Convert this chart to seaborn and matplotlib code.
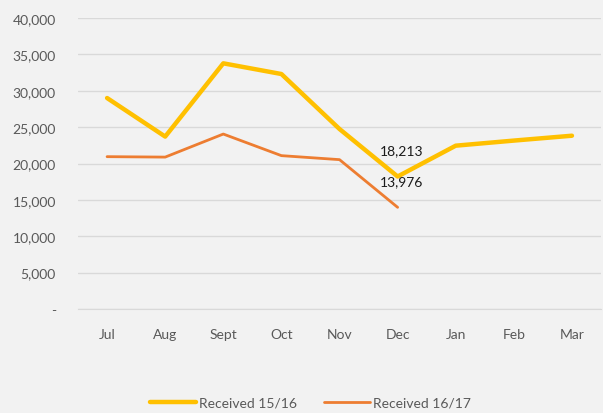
import matplotlib
matplotlib.use('Agg')
import matplotlib.pyplot as plt
import seaborn as sns
import pandas as pd
from matplotlib.ticker import FuncFormatter

months = ['Jul', 'Aug', 'Sept', 'Oct', 'Nov', 'Dec', 'Jan', 'Feb', 'Mar']
received_1516 = [29000, 23700, 33770, 32300, 24740, 18213, 22450, 23150, 23820]
months_1617 = ['Jul', 'Aug', 'Sept', 'Oct', 'Nov', 'Dec']
received_1617 = [20940, 20880, 24050, 21080, 20530, 13976]

df = pd.concat([
    pd.DataFrame({'month': months, 'value': received_1516, 'series': 'Received 15/16'}),
    pd.DataFrame({'month': months_1617, 'value': received_1617, 'series': 'Received 16/17'}),
])
df['x'] = df['month'].map({m: i for i, m in enumerate(months)})

sns.set_style('white')
plt.rcParams['font.family'] = ['Lato', 'DejaVu Sans']
BG = '#f2f2f2'
TXT = '#595959'

fig = plt.figure(figsize=(6.03, 4.14), dpi=100, facecolor=BG)
ax = fig.add_axes([0.1294, 0.2512, 0.8673, 0.7029], facecolor=BG)

palette = {'Received 15/16': '#FFC000', 'Received 16/17': '#ED7D31'}
sns.lineplot(data=df, x='x', y='value', hue='series', palette=palette,
             size='series', sizes={'Received 15/16': 3.2, 'Received 16/17': 2.0},
             sort=False, ax=ax, legend=False)

ax.set_xlim(-0.5, len(months) - 0.5)
ax.set_ylim(0, 40000)
ax.set_yticks(range(0, 40001, 5000))
ax.yaxis.set_major_formatter(FuncFormatter(lambda v, p: '-' if v == 0 else f'{int(v):,}'))
ax.set_xticks(range(len(months)))
ax.set_xticklabels(months)
ax.grid(axis='y', color='#d9d9d9', linewidth=1)
ax.set_axisbelow(True)
for s in ['top', 'right', 'left']:
    ax.spines[s].set_visible(False)
ax.spines['bottom'].set_color('#d9d9d9')
ax.tick_params(axis='both', length=0, labelsize=10, colors=TXT)
ax.tick_params(axis='y', pad=16)
ax.tick_params(axis='x', pad=14)
ax.set_xlabel('')
ax.set_ylabel('')

dec = months.index('Dec')
ax.annotate(f'{received_1516[dec]:,}', (dec, received_1516[dec]), xytext=(3, 19),
            textcoords='offset points', ha='center', va='center', fontsize=10, color='#1a1a1a')
ax.annotate(f'{received_1617[dec]:,}', (dec, received_1617[dec]), xytext=(3, 19),
            textcoords='offset points', ha='center', va='center', fontsize=10, color='#1a1a1a')

handles = [plt.Line2D([], [], color='#FFC000', lw=3.2), plt.Line2D([], [], color='#ED7D31', lw=2.0)]
fig.legend(handles, ['Received 15/16', 'Received 16/17'], loc='center', bbox_to_anchor=(0.515, 0.025),
           ncol=2, frameon=False, fontsize=10, labelcolor=TXT, handlelength=3.3,
           handletextpad=0.2, columnspacing=2.0)

fig.savefig('out.png', dpi=100, facecolor=BG)
